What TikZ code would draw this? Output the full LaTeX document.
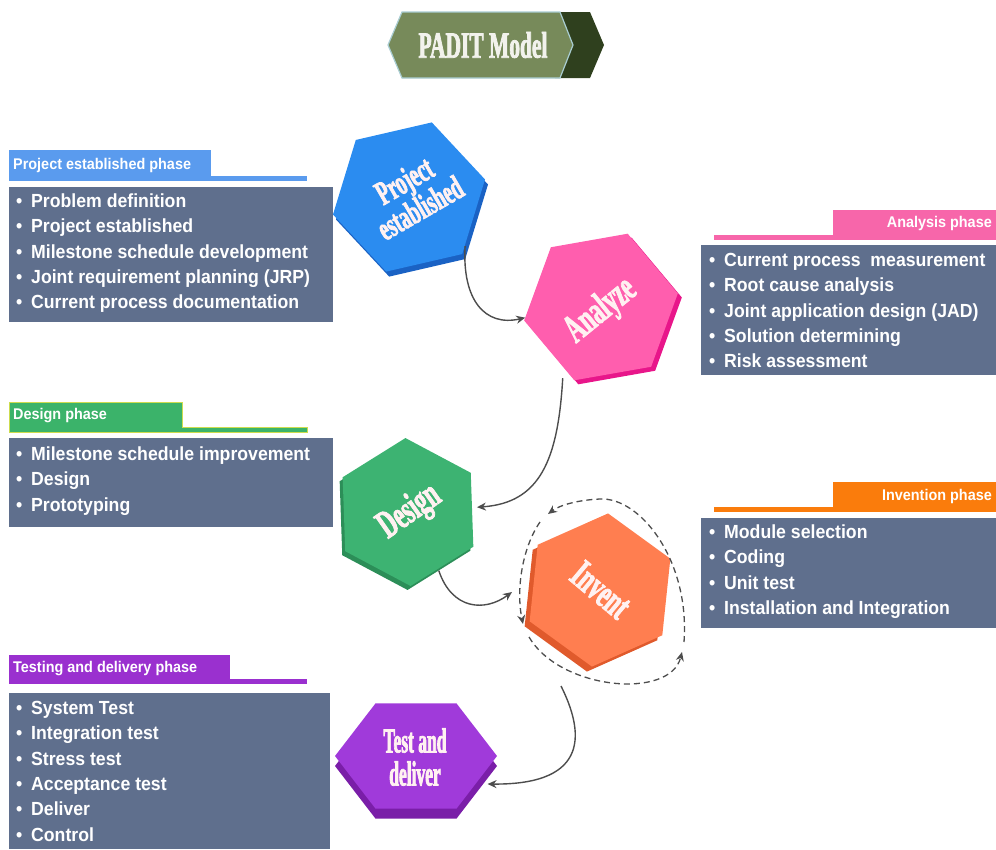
\documentclass[tikz,border=0pt]{standalone}
\usepackage{fontspec}
\setmainfont{Liberation Sans}
\newfontfamily\pfont{Liberation Sans}[FakeStretch=0.93]
\newfontfamily\hfont{Liberation Serif}[UprightFont=* Bold, FakeStretch=0.58, FakeBold=2]
\newfontfamily\hfontn{Liberation Serif}[UprightFont=* Bold, FakeStretch=0.5, FakeBold=2]
\usetikzlibrary{shapes.geometric,arrows.meta}
\definecolor{panelbody}{HTML}{5F6F8D}
\definecolor{hblue}{HTML}{5A9BEE}
\definecolor{hpink}{HTML}{F766AA}
\definecolor{hgreen}{HTML}{3BB36A}
\definecolor{hgreenedge}{HTML}{CDDC4E}
\definecolor{hpurple}{HTML}{9A30CF}
\definecolor{horange}{HTML}{FA7C0C}
\definecolor{blueface}{HTML}{2B8CF0}
\definecolor{blueside}{HTML}{1A62C4}
\definecolor{pinkface}{HTML}{FF5EAE}
\definecolor{pinkside}{HTML}{E8168A}
\definecolor{greenface}{HTML}{3DB372}
\definecolor{greenside}{HTML}{2C8E58}
\definecolor{purpleface}{HTML}{A03ADA}
\definecolor{purpleside}{HTML}{7A1EA8}
\definecolor{orangeface}{HTML}{FF7E50}
\definecolor{orangeside}{HTML}{E05A2C}
\definecolor{titleolive}{HTML}{778A5A}
\definecolor{titleedge}{HTML}{A9CDD2}
\definecolor{titledark}{HTML}{2F401E}
\definecolor{titletext}{HTML}{F2F2EC}
\definecolor{arrowgray}{HTML}{4D4D4D}
\definecolor{hextxt}{HTML}{FFF1F1}
\begin{document}
\begin{tikzpicture}[x=1pt,y=-1pt,
  hexa/.style={regular polygon, regular polygon sides=6, inner sep=0pt, outer sep=0pt},
  item/.style={anchor=base west, inner sep=0pt, text=white, font=\pfont\bfseries\fontsize{19}{23}\selectfont},
  head/.style={inner sep=0pt, text=white, font=\pfont\bfseries\fontsize{15.5}{18}\selectfont},
  hextext/.style={text=hextxt, align=center, inner sep=0pt},
  conn/.style={draw=arrowgray, line width=1.4pt, -{Stealth[length=9pt,width=8pt]}},
  loopline/.style={draw=arrowgray, line width=1.3pt, dash pattern=on 6pt off 4pt, -{Stealth[length=9pt,width=8pt]}},
]
\useasboundingbox (0,0) rectangle (996,849);

% title banner
\fill[titledark] (555,12) -- (590,12) -- (604,45) -- (590,78) -- (555,78) -- cycle;
\filldraw[fill=titleolive, draw=titleedge, line width=1.2pt] (388,45) -- (402,12) -- (560,12) -- (573,45) -- (560,78) -- (402,78) -- cycle;
\node[text=titletext, font=\hfont\fontsize{37}{40}\selectfont, inner sep=0pt] (title) at (483,45) {PADIT Model};

% hexagons
\node[hexa, fill=blueside, minimum size=156pt, shape border rotate=13] (pe-side) at (412,202) {};
\node[hexa, fill=blueface, minimum size=156pt, shape border rotate=13] (pe) at (409,197) {};
\node[hextext, rotate=30, font=\hfont\fontsize{34}{30}\selectfont] (pe-t) at (412,194) {Project\\established};

\node[hexa, fill=pinkside, minimum size=156pt, shape border rotate=10] (an-side) at (605,311) {};
\node[hexa, fill=pinkface, minimum size=156pt, shape border rotate=10] (an) at (601,307) {};
\node[hextext, rotate=39, font=\hfont\fontsize{40}{40}\selectfont] (an-t) at (601,311) {Analyze};

\node[hexa, fill=greenside, minimum size=148pt, shape border rotate=32] (de-side) at (405,516) {};
\node[hexa, fill=greenface, minimum size=148pt, shape border rotate=32] (de) at (408,512) {};
\node[hextext, rotate=35, font=\hfont\fontsize{40}{40}\selectfont] (de-t) at (410,512) {Design};

\node[hexa, fill=orangeside, minimum size=154pt, shape border rotate=24] (inv-side) at (595,595) {};
\node[hexa, fill=orangeface, minimum size=154pt, shape border rotate=24] (inv) at (600,590) {};
\node[hextext, rotate=-40, font=\hfont\fontsize{40}{40}\selectfont] (inv-t) at (601,590) {Invent};

\begin{scope}[shift={(416,766)}, yscale=0.75]
  \node[hexa, fill=purpleside, minimum size=162pt, transform shape] (td-side) at (0,0) {};
\end{scope}
\begin{scope}[shift={(416,756)}, yscale=0.75]
  \node[hexa, fill=purpleface, minimum size=162pt, transform shape] (td) at (0,0) {};
\end{scope}
\node[hextext, font=\hfontn\fontsize{35}{33}\selectfont] (td-t) at (415,757) {Test and\\deliver};

% dashed loop around Invent
\coordinate (loopW) at (512,592);
\coordinate (loopS) at (561,686);
\draw[loopline] (684,642) .. controls (690,560) and (640,497) .. (600,499) .. controls (578,500) and (560,505) .. (548,514);
\draw[loopline] (540,522) .. controls (522,548) and (516,590) .. (523,624);
\draw[loopline] (529,637) .. controls (560,690) and (670,700) .. (682,652);

% connectors
\draw[conn, shorten <=2pt] (pe.-40) .. controls (462,300) and (485,327) .. (an.188);
\draw[conn, shorten <=11pt, shorten >=5pt] (an.-122) .. controls (558,460) and (540,503) .. (de.4);
\draw[conn, shorten <=2pt] (de.-62) .. controls (452,610) and (485,612) .. (loopW);
\draw[conn, shorten >=12pt] (loopS) .. controls (583,730) and (592,785) .. (td.-32);

% panel: project established
\fill[hblue] (9,150) rectangle (211,181);
\fill[hblue] (211,176) rectangle (307,181);
\node[head, anchor=west] (h1) at (13,165) {Project established phase};
\fill[panelbody] (9,187) rectangle (333,322);
\foreach \t [count=\i] in {Problem definition, Project established, Milestone schedule development, Joint requirement planning (JRP), Current process documentation}
  \node[item] (p1-\i) at (16, 182.2+25.3*\i) {\makebox[15pt][l]{•}\t};

% panel: design
\filldraw[fill=hgreen, draw=hgreenedge, line width=1pt] (9,402) -- (182,402) -- (182,427) -- (307,427) -- (307,432) -- (9,432) -- cycle;
\node[head, anchor=west] (h2) at (13,416) {Design phase};
\fill[panelbody] (9,438) rectangle (333,527);
\foreach \t [count=\i] in {Milestone schedule improvement, Design, Prototyping}
  \node[item] (p2-\i) at (16, 435.2+25.3*\i) {\makebox[15pt][l]{•}\t};

% panel: testing
\fill[hpurple] (9,655) rectangle (230,684);
\fill[hpurple] (230,679) rectangle (307,684);
\node[head, anchor=west] (h3) at (13,669) {Testing and delivery phase};
\fill[panelbody] (9,693) rectangle (330,849);
\foreach \t [count=\i] in {System Test, Integration test, Stress test, Acceptance test, Deliver, Control}
  \node[item] (p3-\i) at (16, 689.2+25.3*\i) {\makebox[15pt][l]{•}\t};

% panel: analysis
\fill[hpink] (833,210) rectangle (996,240);
\fill[hpink] (714,235) rectangle (833,240);
\node[head, anchor=east] (h4) at (992,223) {Analysis phase};
\fill[panelbody] (701,245) rectangle (996,375);
\foreach \t [count=\i] in {Current process\ \ measurement, Root cause analysis, Joint application design (JAD), Solution determining, Risk assessment}
  \node[item] (p4-\i) at (709, 241.2+25.3*\i) {\makebox[15pt][l]{•}\t};

% panel: invention
\fill[horange] (833,482) rectangle (996,512);
\fill[horange] (714,507) rectangle (833,512);
\node[head, anchor=east] (h5) at (992,496) {Invention phase};
\fill[panelbody] (701,518) rectangle (996,628);
\foreach \t [count=\i] in {Module selection, Coding, Unit test, Installation and Integration}
  \node[item] (p5-\i) at (709, 513.2+25.3*\i) {\makebox[15pt][l]{•}\t};
\end{tikzpicture}
\end{document}
